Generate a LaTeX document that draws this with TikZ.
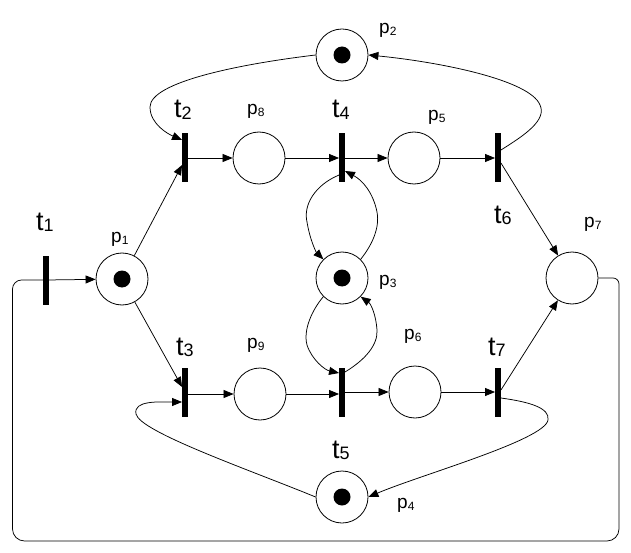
\documentclass[tikz,border=0pt]{standalone}
\usepackage{fontspec}
\setmainfont{Liberation Sans}
\usetikzlibrary{arrows.meta}
\newcommand\tlab[1]{{\fontsize{27}{27}\selectfont t\raisebox{-1.5pt}{\fontsize{18}{18}\selectfont #1}}}
\newcommand\plab[1]{{\fontsize{19}{19}\selectfont p\raisebox{-2pt}{\fontsize{12}{12}\selectfont #1}}}
\begin{document}
\begin{tikzpicture}[x=1pt,y=-1pt,
  place/.style={circle,draw,minimum size=52pt,inner sep=0pt,line width=0.8pt},
  trans/.style={rectangle,fill=black,minimum width=5.5pt,minimum height=49pt,inner sep=0pt},
  lbl/.style={inner sep=0pt,anchor=base west},
  arc/.style={line width=0.75pt,-{Triangle[length=10pt,width=8pt]}},
  plain/.style={line width=0.75pt}]
\useasboundingbox (0,0) rectangle (631,553);
% places
\node[place] (p1) at (122,279) {};
\node[place] (p2) at (342,55) {};
\node[place] (p8) at (259,158) {};
\node[place] (p5) at (414,158) {};
\node[place] (p3) at (342,278) {};
\node[place] (p7) at (572,278) {};
\node[place] (p9) at (260,394) {};
\node[place] (p6) at (415,392) {};
\node[place] (p4) at (342,497) {};
% tokens
\foreach \p in {p1,p2,p3,p4} \fill (\p.center) circle[radius=8.5pt];
% transitions
\node[trans] (t1) at (46,280) {};
\node[trans] (t2) at (185,158) {};
\node[trans] (t4) at (342,158) {};
\node[trans] (t6) at (498,158) {};
\node[trans] (t3) at (185,392) {};
\node[trans] (t5) at (342,392) {};
\node[trans] (t7) at (498,392) {};
% labels
\node[lbl] (lt1) at (36,230) {\tlab{1}};
\node[lbl] (lt2) at (174,118) {\tlab{2}};
\node[lbl] (lt4) at (332,118) {\tlab{4}};
\node[lbl] (lt6) at (494,223) {\tlab{6}};
\node[lbl] (lt3) at (176,355) {\tlab{3}};
\node[lbl] (lt5) at (332,458) {\tlab{5}};
\node[lbl] (lt7) at (488,355) {\tlab{7}};
\node[lbl] (lp1) at (111,242) {\plab{1}};
\node[lbl] (lp2) at (379,34) {\plab{2}};
\node[lbl] (lp8) at (247,115) {\plab{8}};
\node[lbl] (lp5) at (428,121) {\plab{5}};
\node[lbl] (lp3) at (379,285) {\plab{3}};
\node[lbl] (lp7) at (584,227) {\plab{7}};
\node[lbl] (lp9) at (247,348) {\plab{9}};
\node[lbl] (lp6) at (404,339) {\plab{6}};
\node[lbl] (lp4) at (397,508) {\plab{4}};
% straight arcs
\draw[arc] (t1.center) -- (p1);
\draw[arc] (p1) -- ([yshift=-7pt]t2.west);
\draw[arc] (p1) -- ([yshift=5pt]t3.west);
\draw[arc] (t2.center) -- (p8);
\draw[arc] (p8) -- (t4.west);
\draw[arc] (t4.center) -- (p5);
\draw[arc] (p5) -- (t6.west);
\draw[arc] ([yshift=-2pt]t3.center) -- (p9);
\draw[arc] (p9) -- ([yshift=-2pt]t5.west);
\draw[arc] (t5.center) -- (p6);
\draw[arc] (p6) -- (t7.west);
\draw[arc] ([yshift=-5pt]t6.east) -- (p7);
\draw[arc] ([yshift=2pt]t7.east) -- (p7);
% curved arcs
\draw[arc] (p2.west) .. controls (240,64) and (150,82) .. (150,107)
  .. controls (150,124) and (168,134) .. ([yshift=18pt]t2.west);
\draw[arc] ([yshift=8pt]t6.east) .. controls (525,135) and (547,120) .. (540,105)
  .. controls (530,80) and (440,62) .. (p2.east);
\draw[arc] ([yshift=-17pt]t4.west) .. controls (315,185) and (303,205) .. (307,222)
  .. controls (310,240) and (316,252) .. (p3.north west);
\draw[arc] (p3.north east) .. controls (372,245) and (380,228) .. (377,212)
  .. controls (373,192) and (362,180) .. ([yshift=-13pt]t4.east);
\draw[arc] (p3.south west) .. controls (312,310) and (303,330) .. (307,345)
  .. controls (312,360) and (325,370) .. ([yshift=19pt]t5.west);
\draw[arc] ([yshift=20pt]t5.east) .. controls (365,360) and (378,345) .. (377,330)
  .. controls (376,315) and (371,304) .. (p3.south east);
\draw[arc] ([yshift=-6pt]t7.east) .. controls (530,402) and (550,408) .. (548,420)
  .. controls (545,440) and (420,475) .. (p4.east);
\draw[arc] (p4.west) .. controls (250,470) and (140,432) .. (136,414)
  .. controls (133,400) and (160,402) .. ([yshift=-10pt]t3.west);
% return loop p7 -> t1
\draw[plain] (p7.east) [rounded corners=6pt] -| (619,420) [rounded corners=12pt] |- (200,541)
  -| (12.5,400) [rounded corners=9pt] |- (t1.center);
\end{tikzpicture}
\end{document}
